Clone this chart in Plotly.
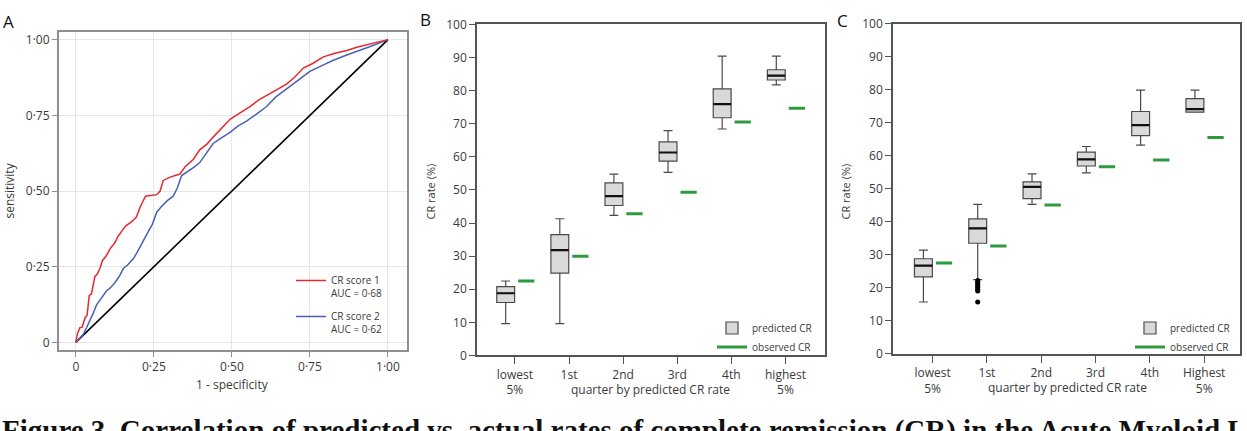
import plotly.graph_objects as go

W, H = 1247, 431

# ---------------- Panel A : ROC curves ----------------
fpr_s1 = [0, 0.005, 0.013, 0.02, 0.029, 0.036, 0.043, 0.05, 0.061, 0.068, 0.077, 0.085, 0.098,
          0.11, 0.125, 0.135, 0.146, 0.16, 0.178, 0.194, 0.2, 0.205, 0.223, 0.24, 0.259, 0.27,
          0.28, 0.3, 0.333, 0.35, 0.376, 0.397, 0.42, 0.44, 0.47, 0.494, 0.525, 0.558, 0.585,
          0.611, 0.645, 0.675, 0.7, 0.729, 0.76, 0.793, 0.83, 0.868, 0.9, 0.921, 0.96, 1.0]
tpr_s1 = [0, 0.03, 0.049, 0.05, 0.08, 0.09, 0.155, 0.16, 0.218, 0.225, 0.244, 0.27, 0.287,
          0.31, 0.329, 0.35, 0.366, 0.385, 0.398, 0.414, 0.43, 0.445, 0.483, 0.485, 0.488, 0.5,
          0.535, 0.545, 0.556, 0.58, 0.604, 0.636, 0.655, 0.678, 0.71, 0.737, 0.757, 0.779, 0.8,
          0.816, 0.835, 0.853, 0.875, 0.906, 0.922, 0.943, 0.955, 0.964, 0.975, 0.98, 0.99, 1.0]
fpr_s2 = [0, 0.012, 0.024, 0.035, 0.045, 0.055, 0.066, 0.08, 0.098, 0.11, 0.125, 0.14, 0.152,
          0.165, 0.184, 0.195, 0.205, 0.22, 0.232, 0.245, 0.259, 0.275, 0.295, 0.312, 0.325,
          0.339, 0.36, 0.38, 0.397, 0.42, 0.44, 0.465, 0.494, 0.52, 0.547, 0.58, 0.611, 0.64,
          0.675, 0.71, 0.75, 0.79, 0.825, 0.87, 0.91, 0.95, 1.0]
tpr_s2 = [0, 0.015, 0.027, 0.05, 0.07, 0.095, 0.123, 0.145, 0.17, 0.18, 0.197, 0.22, 0.244,
          0.255, 0.276, 0.295, 0.313, 0.34, 0.366, 0.39, 0.43, 0.45, 0.47, 0.483, 0.51,
          0.551, 0.565, 0.58, 0.594, 0.63, 0.657, 0.675, 0.694, 0.715, 0.731, 0.755, 0.779, 0.81,
          0.837, 0.865, 0.895, 0.915, 0.932, 0.95, 0.964, 0.98, 1.0]
chance_line = [0, 1]
roc_tickvals = [0, 0.25, 0.5, 0.75, 1.0]
roc_ticktext = ["0", "0·25", "0·50", "0·75", "1·00"]
roc_names = ["CR score 1<br>AUC = 0·68", "CR score 2<br>AUC = 0·62"]

# ---------------- Panels B & C : box plots ----------------
positions = [0, 1, 2, 3, 4, 5]
cats_b = ["lowest<br>5%", "1st", "2nd", "3rd", "4th", "highest<br>5%"]
cats_c = ["lowest<br>5%", "1st", "2nd", "3rd", "4th", "Highest<br>5%"]
pct_ticks = [0, 10, 20, 30, 40, 50, 60, 70, 80, 90, 100]

b_low = [9.6, 9.6, 42.3, 55.3, 68.4, 81.7]
b_q1 = [16.0, 24.9, 45.3, 58.7, 71.8, 83.2]
b_med = [18.8, 31.8, 48.1, 61.3, 75.9, 84.5]
b_q3 = [20.8, 36.5, 52.1, 64.5, 80.5, 86.3]
b_high = [22.5, 41.3, 54.8, 67.9, 90.4, 90.4]
b_obs = [22.5, 30.0, 42.8, 49.3, 70.5, 74.7]

c_low = [15.7, 22.5, 45.3, 54.8, 63.2, 73.2]
c_q1 = [23.3, 33.5, 47.0, 56.9, 66.1, 73.2]
c_med = [26.7, 38.0, 50.6, 58.9, 69.3, 74.1]
c_q3 = [28.8, 40.9, 52.1, 61.1, 73.4, 77.3]
c_high = [31.4, 45.3, 54.5, 62.8, 79.9, 79.9]
c_obs = [27.5, 32.7, 45.1, 56.7, 58.7, 65.5]
c_outlier_group = [1, 1, 1, 1, 1, 1, 1, 1]
c_outlier_vals = [22.2, 21.7, 21.2, 20.7, 20.2, 19.6, 19.0, 15.7]

caption = ("<b>Figure 3. Correlation of predicted vs. actual rates of complete remission "
           "(CR) in the Acute Myeloid Leukemia</b>")

# style constants
BOX_OFF, OBS_OFF, BOX_W, OBS_HALF = -0.17, 0.21, 0.33, 0.15
FONT = "Open Sans"
TXT = "#3a3a3a"
RED, BLUE, GREEN = "#e8282c", "#4a5fb8", "#2f9a3f"


def px_x(p):
    return p / W


def px_y(p):
    return 1 - p / H


fig = go.Figure()

# Panel A traces
fig.add_trace(go.Scatter(x=chance_line, y=chance_line, mode="lines",
                         line=dict(color="black", width=1.6), showlegend=False,
                         xaxis="x", yaxis="y", hoverinfo="skip"))
fig.add_trace(go.Scatter(x=fpr_s2, y=tpr_s2, mode="lines", name=roc_names[1],
                         line=dict(color=BLUE, width=1.5), legend="legend",
                         legendgroup="g2", legendrank=2, xaxis="x", yaxis="y"))
fig.add_trace(go.Scatter(x=fpr_s1, y=tpr_s1, mode="lines", name=roc_names[0],
                         line=dict(color=RED, width=1.5), legend="legend",
                         legendgroup="g1", legendrank=1, xaxis="x", yaxis="y"))


def add_box_panel(xa, ya, leg, low, q1, med, q3, high, obs):
    bx = [p + BOX_OFF for p in positions]
    fig.add_trace(go.Box(x=bx, q1=q1, median=med, q3=q3, lowerfence=low, upperfence=high,
                         width=BOX_W, whiskerwidth=0.5, fillcolor="#d9d9d9",
                         line=dict(color="#4a4a4a", width=1.2), boxpoints=False,
                         name="predicted CR", legend=leg, xaxis=xa, yaxis=ya))
    mx, my = [], []
    for p, m in zip(bx, med):
        mx += [p - BOX_W / 2, p + BOX_W / 2, None]
        my += [m, m, None]
    fig.add_trace(go.Scatter(x=mx, y=my, mode="lines", line=dict(color="#111", width=2.2),
                             showlegend=False, xaxis=xa, yaxis=ya, hoverinfo="skip"))
    ox, oy = [], []
    for p, v in zip(positions, obs):
        ox += [p + OBS_OFF - OBS_HALF, p + OBS_OFF + OBS_HALF, None]
        oy += [v, v, None]
    fig.add_trace(go.Scatter(x=ox, y=oy, mode="lines", line=dict(color=GREEN, width=3),
                             name="observed CR", legend=leg, xaxis=xa, yaxis=ya))


add_box_panel("x2", "y2", "legend2", b_low, b_q1, b_med, b_q3, b_high, b_obs)
add_box_panel("x3", "y3", "legend3", c_low, c_q1, c_med, c_q3, c_high, c_obs)

fig.add_trace(go.Scatter(x=[g + BOX_OFF for g in c_outlier_group], y=c_outlier_vals,
                         mode="markers", marker=dict(color="black", size=5),
                         showlegend=False, xaxis="x3", yaxis="y3"))

tickfont = dict(family=FONT, size=12, color=TXT)

layout = dict(
    width=W, height=H, margin=dict(l=0, r=0, t=0, b=0),
    paper_bgcolor="white", plot_bgcolor="white",
    font=dict(family=FONT, color=TXT),
    xaxis=dict(domain=[px_x(59), px_x(407)], range=[-0.054, 1.061],
               tickvals=roc_tickvals, ticktext=roc_ticktext, tickfont=tickfont,
               showline=True, mirror=True, linecolor="#8f8f8f", linewidth=2,
               ticks="outside", ticklen=5, tickcolor="#8f8f8f",
               showgrid=True, gridcolor="#e6e6e6", zeroline=False),
    yaxis=dict(domain=[px_y(355), px_y(24)], range=[-0.025, 1.025],
               tickvals=roc_tickvals, ticktext=roc_ticktext, tickfont=tickfont,
               showline=True, mirror=True, linecolor="#8f8f8f", linewidth=2,
               ticks="outside", ticklen=5, tickcolor="#8f8f8f",
               showgrid=True, gridcolor="#e6e6e6", zeroline=False),
)

for xa, ya, xd, yd, xr, cats in [
        ("xaxis2", "yaxis2", (477, 825), (360.7, 16), (-0.70, 5.73), cats_b),
        ("xaxis3", "yaxis3", (893, 1240), (359, 15.3), (-0.73, 5.66), cats_c)]:
    layout[xa] = dict(domain=[px_x(xd[0]), px_x(xd[1])], range=list(xr), anchor=ya.replace("axis", ""),
                      tickvals=positions, ticktext=cats, tickfont=tickfont,
                      showline=True, mirror=True, linecolor="#555", linewidth=1.5,
                      ticks="outside", ticklen=7, tickcolor="#555", showgrid=False, zeroline=False)
    layout[ya] = dict(domain=[px_y(yd[0]), px_y(yd[1])], range=[0, 100], anchor=xa.replace("axis", ""),
                      tickvals=pct_ticks, tickfont=tickfont,
                      showline=True, mirror=True, linecolor="#555", linewidth=1.5,
                      ticks="outside", ticklen=6, tickcolor="#555", showgrid=False, zeroline=False)

legfont = dict(family=FONT, size=10, color=TXT)
layout["legend"] = dict(x=px_x(291), y=px_y(269), xanchor="left", yanchor="top",
                        bgcolor="rgba(0,0,0,0)", font=legfont, valign="top",
                        traceorder="grouped", tracegroupgap=7)
layout["legend2"] = dict(x=px_x(712), y=px_y(317), xanchor="left", yanchor="top",
                         bgcolor="rgba(0,0,0,0)", font=legfont)
layout["legend3"] = dict(x=px_x(1130), y=px_y(317), xanchor="left", yanchor="top",
                         bgcolor="rgba(0,0,0,0)", font=legfont)

annotations = [
    dict(text="A", x=px_x(8), y=px_y(13), font=dict(family=FONT, size=17, color="#111")),
    dict(text="B", x=px_x(425), y=px_y(11), font=dict(family=FONT, size=17, color="#111")),
    dict(text="C", x=px_x(842), y=px_y(12), font=dict(family=FONT, size=17, color="#111")),
    dict(text="sensitivity", x=px_x(10), y=px_y(189), textangle=-90,
         font=dict(family=FONT, size=12, color=TXT)),
    dict(text="1 - specificity", x=px_x(232), y=px_y(391),
         font=dict(family=FONT, size=12, color=TXT)),
    dict(text="CR rate (%)", x=px_x(431), y=px_y(190), textangle=-90,
         font=dict(family=FONT, size=11, color=TXT)),
    dict(text="CR rate (%)", x=px_x(846), y=px_y(190), textangle=-90,
         font=dict(family=FONT, size=11, color=TXT)),
    dict(text="quarter by predicted CR rate", x=px_x(651), y=px_y(396),
         font=dict(family=FONT, size=12, color=TXT)),
    dict(text="quarter by predicted CR rate", x=px_x(1067), y=px_y(394),
         font=dict(family=FONT, size=12, color=TXT)),
    dict(text=caption, x=0, y=px_y(420), xanchor="left", yanchor="top",
         font=dict(family="Liberation Serif", size=29, color="#111")),
]
for a in annotations:
    a.update(xref="paper", yref="paper", showarrow=False)
    a.setdefault("xanchor", "center")
    a.setdefault("yanchor", "middle")
layout["annotations"] = annotations

fig.update_layout(**layout)
fig.write_html("out.html")
